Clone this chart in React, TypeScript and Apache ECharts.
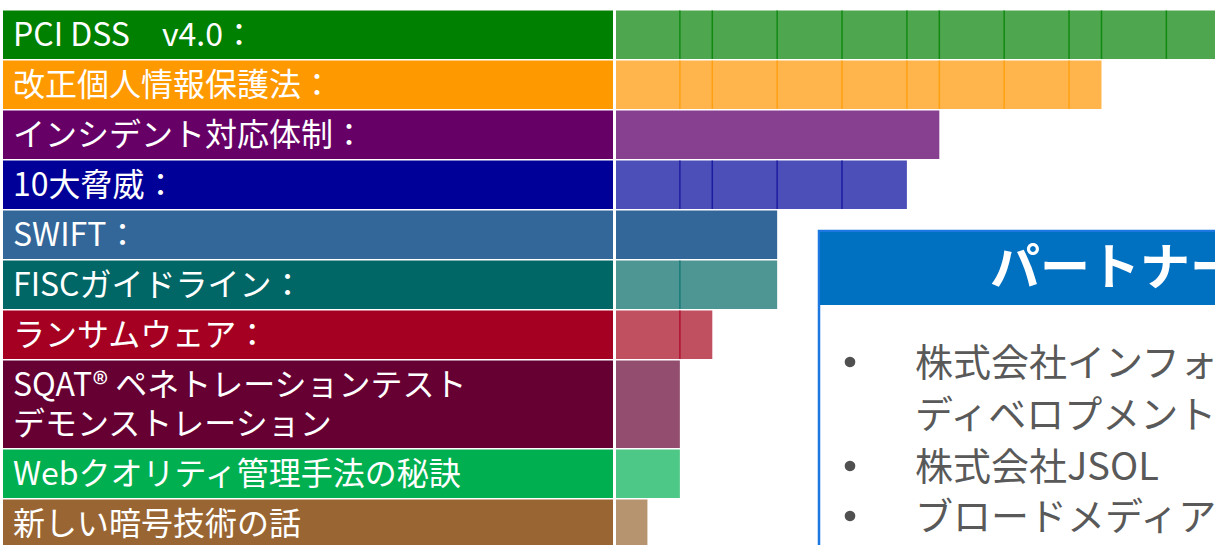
import React, { useEffect, useRef } from "react";
import * as echarts from "echarts";

// Row labels (categories)
const rowLabels = [
  "PCI DSS　v4.0：",
  "改正個人情報保護法：",
  "インシデント対応体制：",
  "10大脅威：",
  "SWIFT：",
  "FISCガイドライン：",
  "ランサムウェア：",
  "SQAT® ペネトレーションテスト\nデモンストレーション",
  "Webクオリティ管理手法の秘訣",
  "新しい暗号技術の話",
];

// Session segments per row (each segment = one session, in units)
const pciSessions = [2, 1, 2, 2, 2, 1, 2, 2, 1, 2, 2, 1];
const privacySessions = [2, 1, 2, 2, 2, 1, 2, 2, 1];
const incidentSessions = [10];
const threatSessions = [2, 1, 2, 2, 2];
const swiftSessions = [5];
const fiscSessions = [2, 3];
const ransomSessions = [2, 1];
const sqatSessions = [2];
const webSessions = [2];
const cryptoSessions = [1];

const rowSessions = [
  pciSessions,
  privacySessions,
  incidentSessions,
  threatSessions,
  swiftSessions,
  fiscSessions,
  ransomSessions,
  sqatSessions,
  webSessions,
  cryptoSessions,
];

const labelColors = ["#008000", "#FF9900", "#660066", "#000099", "#336699", "#006666", "#A50021", "#660033", "#00B050", "#996633"];
const barColors = ["#4EA64E", "#FFB54B", "#873F8F", "#4B4FB7", "#336699", "#4E9693", "#C04F60", "#934E6F", "#4EC886", "#B79470"];
const lineColors = ["#128A12", "#FFA012", "#660066", "#1C1CA0", "#336699", "#167A78", "#B01030", "#660033", "#00B050", "#996633"];

// Partner box texts (each item: list of lines)
const partnerTitle = "パートナー企業";
const partnerItems = [["株式会社インフォメーション・", "ディベロプメント"], ["株式会社JSOL"], ["ブロードメディア株式会社"]];

const FONT = '"Noto Sans CJK JP", "Noto Sans", sans-serif';

export default function App() {
  const ref = useRef<HTMLDivElement>(null);

  useEffect(() => {
    if (!ref.current) return;
    const chart = echarts.init(ref.current, undefined, { renderer: "svg" });

    // row extents in row units (two-line labels make a taller row)
    const spans = rowLabels.map((l) => 1 + 0.78 * (l.split("\n").length - 1));
    const starts: number[] = [];
    let acc = 0;
    spans.forEach((s) => {
      starts.push(acc);
      acc += s;
    });
    const data = rowLabels.map((_, i) => [i, starts[i], starts[i] + spans[i]]);

    const renderItem = (params: any, api: any) => {
      const i = params.dataIndex;
      const y0 = api.value(1);
      const y1 = api.value(2);
      const pTop = api.coord([0, y0]);
      const pBot = api.coord([0, y1]);
      const top = pTop[1] + 0.5;
      const bottom = pBot[1] - 1;
      const h = bottom - top;
      const x0 = pTop[0];
      const children: any[] = [];
      children.push({
        type: "rect",
        shape: { x: 3, y: top, width: x0 - 2 - 3, height: h },
        style: { fill: labelColors[i] },
      });
      const labelLines = rowLabels[i].split("\n");
      const lh = 39;
      const firstY = top + h / 2 - 3 - ((labelLines.length - 1) * lh) / 2;
      labelLines.forEach((t, j) => {
        children.push({
          type: "text",
          x: 13,
          y: firstY + j * lh,
          style: {
            text: t,
            fill: "#ffffff",
            fontSize: 32,
            fontFamily: FONT,
            align: "left",
            verticalAlign: "middle",
          },
        });
      });
      let cum = 0;
      const segs = rowSessions[i];
      const lines: any[] = [];
      segs.forEach((v, k) => {
        const xa = api.coord([cum, y0])[0];
        const xb = api.coord([cum + v, y0])[0];
        children.push({
          type: "rect",
          shape: { x: k === 0 ? xa + 1 : xa, y: top, width: xb - xa - (k === 0 ? 1 : 0), height: h },
          style: { fill: barColors[i] },
        });
        if (k > 0) {
          lines.push({
            type: "line",
            shape: { x1: xa, y1: top, x2: xa, y2: bottom },
            style: { stroke: lineColors[i], lineWidth: 1.5 },
          });
        }
        cum += v;
      });
      return { type: "group", children: children.concat(lines) };
    };

    const graphics: any[] = [
      {
        type: "rect",
        shape: { x: 819, y: 231, width: 520, height: 400 },
        style: { fill: "#ffffff", stroke: "#1C78E0", lineWidth: 2.5 },
        z: 10,
      },
      {
        type: "rect",
        shape: { x: 820, y: 232, width: 520, height: 73 },
        style: { fill: "#0070C0" },
        z: 11,
      },
      {
        type: "text",
        x: 990,
        y: 263,
        style: {
          text: partnerTitle,
          fill: "#ffffff",
          fontSize: 50,
          fontWeight: "bold",
          fontFamily: FONT,
          align: "left",
          verticalAlign: "middle",
        },
        z: 12,
      },
    ];
    const itemYs = [362, 466, 516];
    const lineGap = 52;
    partnerItems.forEach((lines, k) => {
      graphics.push({
        type: "circle",
        shape: { cx: 850, cy: itemYs[k], r: 5.3 },
        style: { fill: "#505050" },
        z: 12,
      });
      lines.forEach((t, j) => {
        graphics.push({
          type: "text",
          x: 915,
          y: itemYs[k] - 3 + j * lineGap,
          style: {
            text: t,
            fill: "#595959",
            fontSize: 38,
            fontFamily: FONT,
            align: "left",
            verticalAlign: "middle",
          },
          z: 12,
        });
      });
    });

    chart.setOption({
      animation: false,
      grid: { left: 615, right: 0, top: 10, bottom: 0 },
      xAxis: { type: "value", min: 0, max: 18.5, show: false },
      yAxis: { type: "value", inverse: true, min: 0, max: 10.7, show: false },
      series: [
        {
          type: "custom",
          renderItem,
          data,
          clip: false,
        },
      ],
      graphic: graphics,
    });

    return () => chart.dispose();
  }, []);

  return (
    <div
      ref={ref}
      style={{ position: "fixed", left: 0, top: 0, width: 1215, height: 545, background: "#ffffff" }}
    />
  );
}
